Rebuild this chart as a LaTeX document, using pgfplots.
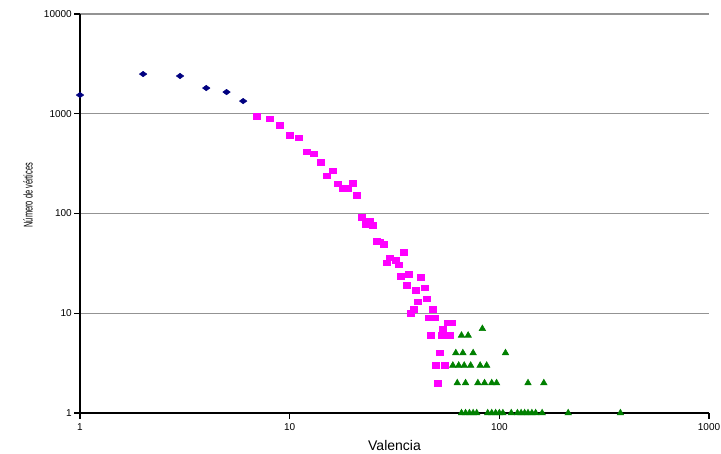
\documentclass[border=0pt]{standalone}
\usepackage{pgfplots}
\pgfplotsset{compat=1.18}
\usepackage{fontspec}
\setmainfont{Liberation Sans}
\usetikzlibrary{calc}

\definecolor{serA}{RGB}{0,0,128}
\definecolor{serB}{RGB}{255,0,255}
\definecolor{serC}{RGB}{0,128,0}

\begin{document}
\begin{tikzpicture}
\begin{axis}[
  scale only axis,
  width=471.75pt, height=299.25pt,
  xmode=log, ymode=log,
  xmin=1, xmax=1000, ymin=1, ymax=10000,
  axis x line*=bottom, axis y line*=left,
  axis line style={black, line width=1.5pt},
  xtick={1,10,100,1000}, xticklabels={1,10,100,1000},
  ytick={1,10,100,1000,10000}, yticklabels={1,10,100,1000,10000},
  xminorticks=false, yminorticks=false,
  tick align=outside, major tick length=4.5pt,
  tick style={black, line width=0.8pt},
  ymajorgrids, grid style={gray!85, line width=0.9pt},
  ticklabel style={font=\fontsize{7.5}{9}\selectfont},
  yticklabel style={inner sep=1.5pt},
  xticklabel style={inner sep=3pt},
  xlabel={Valencia},
  xlabel style={font=\fontsize{10.5}{13}\selectfont, at={(axis description cs:0.5,0)}, anchor=center, yshift=-24.5pt},
  ylabel={\scalebox{0.59}[1]{Número de vértices}},
  ylabel style={font=\fontsize{9.5}{11}\selectfont, at={(axis description cs:-0.0827,0.546)}, anchor=center},
  clip=false,
  only marks,
]
\addplot[mark=diamond*, mark size=3.7pt, mark options={yscale=0.55, draw=serA, fill=serA}]
coordinates {(1,1540)(2,2500)(3,2390)(4,1810)(5,1650)(6,1340)};

\addplot[mark=square*, mark size=2.1pt, mark options={xscale=1.25, draw=serB, fill=serB}]
coordinates {
(7,950)(8,890)(9,770)(10,612)(11,575)(12,414)(13,398)(14,328)(15,238)(16,267)
(17,198)(18,180)(19,180)(20,202)(21,153)(22,92)(23,78)(24,84)(25,76)(26,53)
(27,52)(28,49)(29,32)(30,36)(32,34)(33,30.5)(34,23.6)(35,41)(36,19)(37,24.7)
(38,10)(39,11)(40,17)(41,13)(42,23)(44,18)(45,14)(46,9)(47,6)(48,11)(49,9)
(50,3)(51,2)(52,4)(53,6)(54,7)(55,3)(56,6)(57,8)(58,6)(59,8)
};

\addplot[mark=triangle*, mark size=2.8pt, mark options={draw=serC, fill=serC}]
coordinates {
(83,7)(66,6)(71,6)
(62,4)(67,4)(75,4)(107,4)
(60,3)(64,3)(68,3)(73,3)(81,3)(87,3)
(63,2)(69,2)(79,2)(85,2)(92,2)(97,2)(137,2)(163,2)
(66,1)(69,1)(72,1)(75,1)(78,1)(88,1)(92,1)(96,1)(100,1)(104,1)(114,1)
(122,1)(127,1)(132,1)(137,1)(143,1)(149,1)(160,1)(213,1)(378,1)
};
\end{axis}
\pgfresetboundingbox
\path ($(current axis.south west)+(-60pt,-30.75pt)$) rectangle ($(current axis.north east)+(9pt,10.5pt)$);
\end{tikzpicture}
\end{document}
